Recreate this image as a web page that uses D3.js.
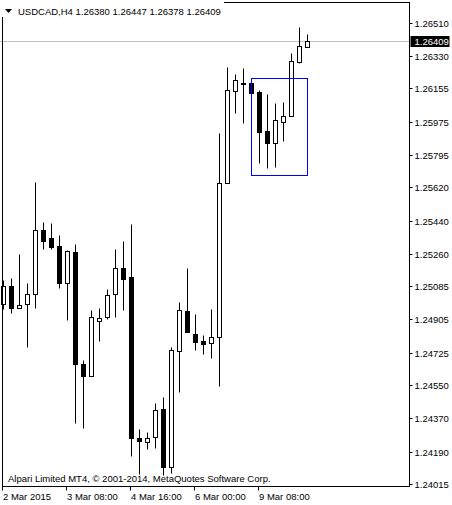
<!DOCTYPE html>
<html>
<head>
<meta charset="utf-8">
<script src="https://cdn.jsdelivr.net/npm/d3@7/dist/d3.min.js"></script>
<style>
body { margin: 0; background: #fff; }
text { font-family: "Liberation Sans", Arial, sans-serif; font-size: 9.5px; }
</style>
</head>
<body>
<div id="chart"></div>
<script>
//Bar data, USDCAD H4 from 2 Mar 2015 00:00
var symbol = "USDCAD,H4";
var opens  = [1.24987, 1.25086, 1.24969, 1.24987, 1.25041, 1.25389, 1.25346, 1.25302, 1.25101, 1.25270,
              1.24664, 1.24601, 1.24898, 1.24917, 1.25041, 1.25183, 1.25135, 1.24262, 1.24244, 1.24268,
              1.24421, 1.24109, 1.24736, 1.24951, 1.24827, 1.24790, 1.24776, 1.24812, 1.25642, 1.26142,
              1.26184, 1.26182, 1.26137, 1.25924, 1.25861, 1.25975, 1.26007, 1.26299, 1.26380];
var highs  = [1.25119, 1.25128, 1.25259, 1.25102, 1.25648, 1.25432, 1.25425, 1.25362, 1.25281, 1.25313,
              1.24686, 1.24956, 1.24966, 1.25070, 1.25286, 1.25329, 1.25421, 1.24311, 1.24295, 1.24452,
              1.24487, 1.24755, 1.25000, 1.25183, 1.24935, 1.24821, 1.24962, 1.25912, 1.26272, 1.26233,
              1.26265, 1.26189, 1.26146, 1.26123, 1.26076, 1.26080, 1.26345, 1.26488, 1.26447];
var lows   = [1.24962, 1.24938, 1.24968, 1.24758, 1.24969, 1.25288, 1.25285, 1.25077, 1.24902, 1.24344,
              1.24320, 1.24598, 1.24790, 1.24908, 1.24920, 1.24956, 1.24168, 1.24068, 1.24203, 1.24208,
              1.24064, 1.24076, 1.24513, 1.24839, 1.24740, 1.24718, 1.24698, 1.24547, 1.25642, 1.26020,
              1.25969, 1.26131, 1.25750, 1.25726, 1.25731, 1.25872, 1.26007, 1.26290, 1.26378];
var closes = [1.25086, 1.24969, 1.24982, 1.25043, 1.25389, 1.25331, 1.25299, 1.25101, 1.25274, 1.24663,
              1.24601, 1.24918, 1.24913, 1.25036, 1.25183, 1.25126, 1.24262, 1.24250, 1.24262, 1.24414,
              1.24109, 1.24740, 1.24956, 1.24839, 1.24785, 1.24774, 1.24809, 1.25642, 1.26146, 1.26200,
              1.26177, 1.26131, 1.25921, 1.25861, 1.25984, 1.26005, 1.26303, 1.26382, 1.26409];
var priceTicks = [1.26510, 1.26330, 1.26155, 1.25975, 1.25795, 1.25620, 1.25440, 1.25260,
                  1.25085, 1.24905, 1.24725, 1.24550, 1.24370, 1.24190, 1.24015];
var timeLabels = ["2 Mar 2015", "3 Mar 08:00", "4 Mar 16:00", "6 Mar 00:00", "9 Mar 08:00"];
var timeLabelBars = [0, 8, 16, 24, 32];
//Rectangle object drawn on the chart
var boxBars = [31, 38];
var boxPrices = [1.26209, 1.25686];
var copyright = "Alpari Limited MT4, \u00a9 2001-2014, MetaQuotes Software Corp.";

var width = 452, height = 505;
var plot = {left: 2.5, top: 2.5, right: 409.5, bottom: 486.5};

var bars = opens.map(function(o, i) {
  return {i: i, o: o, h: highs[i], l: lows[i], c: closes[i]};
});
var last = bars[bars.length - 1];

//Scales: 8px per bar, price from tick positions
var x = d3.scaleLinear().domain([0, bars.length - 1]).range([3.5, 3.5 + 8 * (bars.length - 1)]);
var y = d3.scaleLinear().domain([1.24015, 1.26510]).range([484, 22.7]);
function py(p) { return Math.round(y(p)) + 0.5; }

var svg = d3.select("#chart").append("svg")
  .attr("width", width)
  .attr("height", height)
  .style("display", "block");

//Bid line
svg.append("line")
  .attr("x1", 0).attr("x2", plot.right)
  .attr("y1", py(last.c)).attr("y2", py(last.c))
  .attr("stroke", "#c0c0c0");

//Wicks
svg.append("g")
  .selectAll("line")
  .data(bars)
  .enter()
  .append("line")
  .attr("x1", function(d) { return x(d.i); })
  .attr("x2", function(d) { return x(d.i); })
  .attr("y1", function(d) { return py(d.h); })
  .attr("y2", function(d) { return py(d.l); })
  .attr("stroke", "#000");

//Bodies
svg.append("g")
  .selectAll("rect")
  .data(bars)
  .enter()
  .append("rect")
  .attr("x", function(d) { return x(d.i) - 2; })
  .attr("y", function(d) { return py(Math.max(d.o, d.c)); })
  .attr("width", 4)
  .attr("height", function(d) { return Math.max(0, py(Math.min(d.o, d.c)) - py(Math.max(d.o, d.c))); })
  .attr("fill", function(d) { return d.c >= d.o ? "#fff" : "#000"; })
  .attr("stroke", "#000");

//Rectangle object
svg.append("rect")
  .attr("x", x(boxBars[0]))
  .attr("y", py(boxPrices[0]))
  .attr("width", x(boxBars[1]) - x(boxBars[0]))
  .attr("height", py(boxPrices[1]) - py(boxPrices[0]))
  .attr("fill", "none")
  .attr("stroke", "#0000ff");

//Frame
svg.append("rect")
  .attr("x", plot.left).attr("y", plot.top)
  .attr("width", plot.right - plot.left)
  .attr("height", plot.bottom - plot.top)
  .attr("fill", "none")
  .attr("stroke", "#000");

//Price axis
var priceAxis = svg.append("g").attr("class", "price-axis");
priceAxis.selectAll("line")
  .data(priceTicks)
  .enter()
  .append("line")
  .attr("x1", plot.right).attr("x2", plot.right + 3)
  .attr("y1", function(d) { return py(d); })
  .attr("y2", function(d) { return py(d); })
  .attr("stroke", "#000");
priceAxis.selectAll("text")
  .data(priceTicks)
  .enter()
  .append("text")
  .attr("x", plot.right + 5)
  .attr("y", function(d) { return py(d) + 3.5; })
  .attr("fill", "#000")
  .text(function(d) { return d.toFixed(5); });

//Current price label
svg.append("rect")
  .attr("x", plot.right + 1).attr("y", py(last.c) - 5.5)
  .attr("width", 39).attr("height", 11)
  .attr("fill", "#000");
svg.append("text")
  .attr("x", plot.right + 5)
  .attr("y", py(last.c) + 3.5)
  .attr("fill", "#fff")
  .text(last.c.toFixed(5));

//Time axis
var timeAxis = svg.append("g").attr("class", "time-axis");
timeAxis.selectAll("line")
  .data(timeLabelBars)
  .enter()
  .append("line")
  .attr("x1", function(d) { return Math.floor(x(d)) - 0.5; })
  .attr("x2", function(d) { return Math.floor(x(d)) - 0.5; })
  .attr("y1", plot.bottom).attr("y2", plot.bottom + 4)
  .attr("stroke", "#000");
timeAxis.selectAll("text")
  .data(timeLabelBars)
  .enter()
  .append("text")
  .attr("x", function(d) { return Math.floor(x(d)); })
  .attr("y", 500)
  .attr("fill", "#000")
  .text(function(d, i) { return timeLabels[i]; });

//Title with OHLC of the last bar
svg.append("rect")
  .attr("x", 0).attr("y", 0)
  .attr("width", 224).attr("height", 17)
  .attr("fill", "#fff");
svg.append("path")
  .attr("d", "M5,9 L12,9 L8.5,13 Z")
  .attr("fill", "#000");
svg.append("text")
  .attr("x", 18).attr("y", 15)
  .attr("fill", "#000")
  .text(symbol + "  " + [last.o, last.h, last.l, last.c].map(function(v) { return v.toFixed(5); }).join(" "));

svg.append("text")
  .attr("x", 8).attr("y", 482)
  .attr("fill", "#000")
  .text(copyright);
</script>
</body>
</html>
